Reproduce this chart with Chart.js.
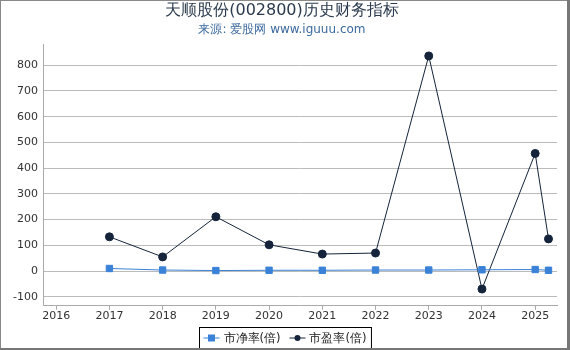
<!DOCTYPE html>
<html>
<head>
<meta charset="utf-8">
<script src="https://cdn.jsdelivr.net/npm/chart.js@4/dist/chart.umd.min.js"></script>
<style>
  html, body { margin: 0; padding: 0; background: #fff; }
</style>
</head>
<body>
<canvas id="c" width="570" height="350"></canvas>
<script>
// years of the reports (last one is a partial-year report)
const years = [2017, 2018, 2019, 2020, 2021, 2022, 2023, 2024, 2025, 2025.25];
const pb = [10, 4, 2, 3, 3, 4, 4, 5, 6, 3];          // 市净率(倍)
const pe = [133, 55, 211, 102, 66, 70, 836, -70, 457, 125]; // 市盈率(倍)
const seriesNames = ['市净率(倍)', '市盈率(倍)'];
const blue = '#3a82d8';
const navy = '#15243a';

const toPts = arr => arr.map((v, i) => ({ x: years[i], y: v }));

const fnt = 'DejaVu Sans, sans-serif';

// legend with a black frame + grey outer frame, drawn on the canvas
const boxLegend = {
  id: 'boxLegend',
  afterDraw(chart) {
    const c = chart.ctx;
    c.save();
    c.font = '11.5px ' + fnt;
    const items = [
      { name: seriesNames[0], color: blue, shape: 'rect' },
      { name: seriesNames[1], color: navy, shape: 'circle' }
    ];
    const iconW = 16, gap = 4, sep = 9;
    let w = 4;
    items.forEach(it => { w += iconW + gap + c.measureText(it.name).width + sep; });
    w = w - sep + 5;
    const h = 21;
    const x0 = Math.round(chart.width / 2 - w / 2) + 0.5;
    const y0 = 327.5;
    c.strokeStyle = '#000';
    c.lineWidth = 1;
    c.strokeRect(x0, y0, w, h);
    let x = x0 + 4;
    const cy = y0 + h / 2;
    items.forEach(it => {
      c.strokeStyle = it.color;
      c.fillStyle = it.color;
      c.beginPath();
      c.moveTo(x, cy); c.lineTo(x + iconW, cy);
      c.stroke();
      if (it.shape === 'rect') c.fillRect(x + iconW / 2 - 3.5, cy - 3.5, 7, 7);
      else { c.beginPath(); c.arc(x + iconW / 2, cy, 3, 0, Math.PI * 2); c.fill(); }
      x += iconW + gap;
      c.fillStyle = '#222';
      c.textBaseline = 'middle';
      c.fillText(it.name, x, cy + 1);
      x += c.measureText(it.name).width + sep;
    });
    // outer frame
    c.fillStyle = '#888';
    c.fillRect(0, 0, 570, 1);
    c.fillRect(0, 0, 1, 350);
    c.fillStyle = '#777';
    c.fillRect(567, 0, 3, 350);
    c.fillRect(0, 348, 570, 2);
    c.restore();
  }
};

new Chart(document.getElementById('c'), {
  type: 'line',
  data: {
    datasets: [
      {
        label: seriesNames[0],
        data: toPts(pb),
        borderColor: blue,
        backgroundColor: blue,
        borderWidth: 1,
        pointStyle: 'rect',
        pointRadius: 4.5,
        pointHoverRadius: 4.5,
        order: 1
      },
      {
        label: seriesNames[1],
        data: toPts(pe),
        borderColor: navy,
        backgroundColor: navy,
        borderWidth: 1,
        pointStyle: 'circle',
        pointRadius: 4,
        pointHoverRadius: 4,
        order: 2
      }
    ]
  },
  options: {
    responsive: false,
    animation: false,
    layout: { padding: { left: 7, right: 13, top: 1, bottom: 27 } },
    plugins: {
      legend: { display: false },
      tooltip: { enabled: false },
      title: {
        display: true,
        text: '天顺股份(002800)历史财务指标',
        color: '#2b3a4e',
        font: { family: fnt, size: 16, weight: 'normal' },
        padding: { top: 0, bottom: 2 }
      },
      subtitle: {
        display: true,
        text: '来源: 爱股网 www.iguuu.com',
        color: '#3d6a9e',
        font: { family: fnt, size: 12 },
        padding: { top: 0, bottom: 8 }
      }
    },
    scales: {
      x: {
        type: 'linear',
        min: 2015.77,
        max: 2025.41,
        ticks: { stepSize: 1, includeBounds: false, color: '#333', font: { family: fnt, size: 11 }, padding: 0, callback: v => String(v) },
        grid: { drawOnChartArea: false, drawTicks: true, tickLength: 4, color: '#aaa' },
        border: { color: '#aaa' }
      },
      y: {
        min: -135,
        max: 880,
        ticks: { stepSize: 100, includeBounds: false, color: '#333', font: { family: fnt, size: 11 }, padding: 6 },
        grid: { color: '#bbb', drawTicks: false },
        border: { color: '#aaa' }
      }
    }
  },
  plugins: [boxLegend]
});
</script>
</body>
</html>
